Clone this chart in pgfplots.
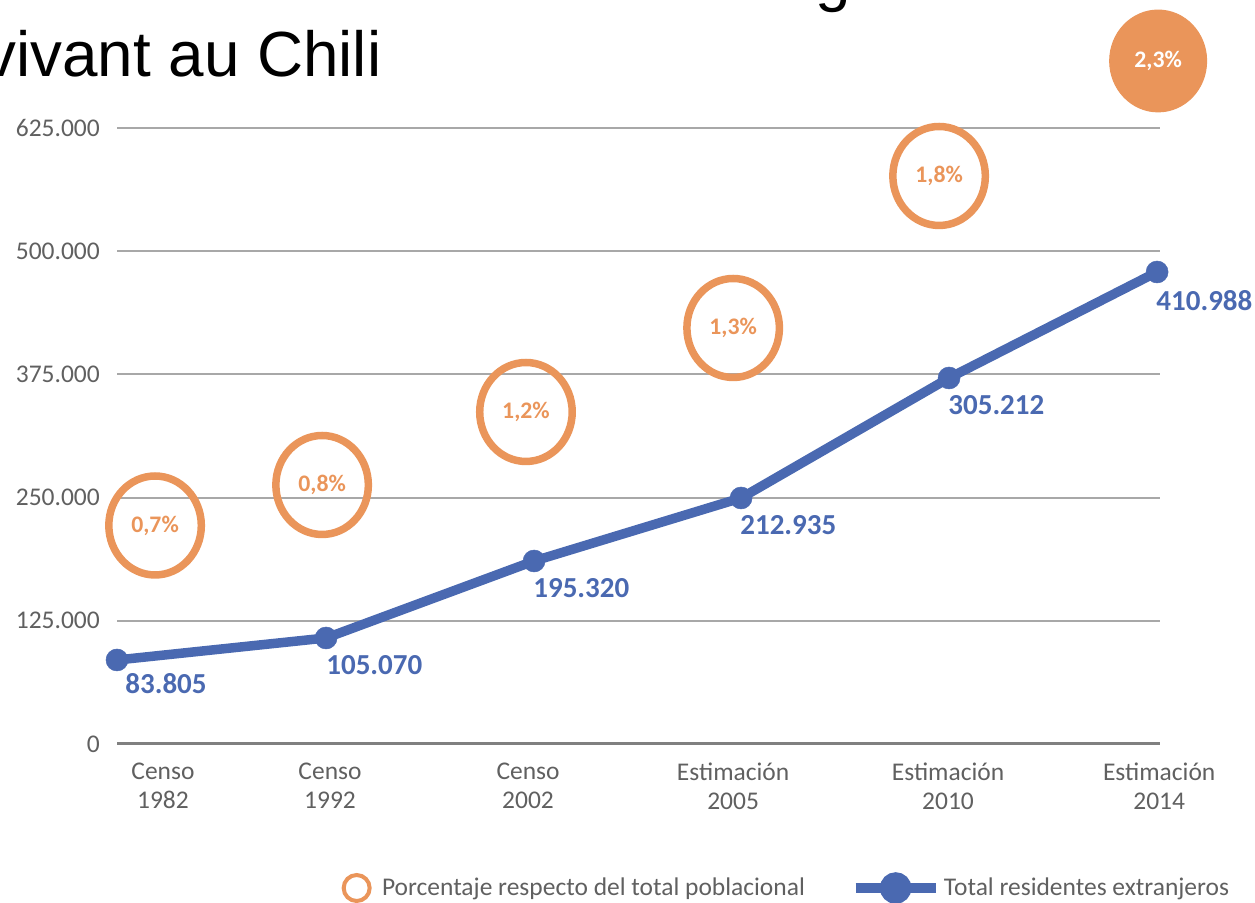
\documentclass[border=0pt]{standalone}
\usepackage{pgfplots}
\pgfplotsset{compat=1.18}
\usepackage{fontspec}
\setmainfont{Carlito}
\newfontfamily\titlefont{Liberation Sans}
\definecolor{ringor}{HTML}{EA955A}
\definecolor{lineblue}{HTML}{4A69B1}
\definecolor{gridgray}{HTML}{A8A8A8}
\definecolor{zerogray}{HTML}{808080}
\definecolor{ticktext}{HTML}{606060}
\begin{document}
\begin{tikzpicture}[x=1mm,y=1mm]
\useasboundingbox (0,0) rectangle (251,180.6);
\node[anchor=base west, inner sep=0, font=\titlefont\fontsize{36.3}{40}\selectfont] at (-3.2,180.6) {Estimation du nombre d'étrangers};
\node[anchor=base west, inner sep=0, font=\titlefont\fontsize{36.3}{40}\selectfont] at (-3.2,165.2) {vivant au Chili};
\begin{axis}[
  at={(23.4mm,31.8mm)}, anchor=south west,
  scale only axis, width=208.6mm, height=123.2mm,
  xmin=0, xmax=5.014, ymin=0, ymax=625000,
  clip=false,
  axis line style={draw=none},
  major tick length=0,
  ytick={125000,250000,375000,500000,625000},
  extra y ticks={0},
  extra y tick style={grid=major, major grid style={draw=zerogray, line width=0.6mm}},
  ymajorgrids,
  major grid style={draw=gridgray, line width=0.4mm},
  scaled y ticks=false,
  /pgf/number format/.cd, fixed, 1000 sep={.}, assume math mode=true,
  /pgfplots/.cd,
  yticklabel style={text=ticktext, font=\fontsize{14.5}{17}\selectfont, xshift=-2.2mm},
  xtick={0.221,1.024,1.976,2.962,3.995,5.01},
  xticklabels={{Censo\\1982},{Censo\\1992},{Censo\\2002},{Estimación\\2005},{Estimación\\2010},{Estimación\\2014}},
  xticklabel style={align=center, text=ticktext, font=\fontsize{14.5}{16.6}\selectfont, yshift=-2.6mm},
  legend columns=2,
  legend style={draw=none, fill=none, at={(0.210,-0.2338)}, anchor=west,
    font=\fontsize{14.5}{17}\selectfont, text=ticktext,
    /tikz/every even column/.append style={column sep=8.5mm}},
  legend cell align=left,
]
\addplot[only marks, mark=o, mark size=9.25mm,
  mark options={draw=ringor, line width=1.5mm, yscale=1.07},
  legend image code/.code={\draw[ringor, line width=0.8mm] (3mm,0mm) circle (2.6mm); \path (7.3mm,0mm);}]
  coordinates {(0.183,221692) (0.986,262784) (1.966,336851) (2.962,422078) (3.952,576299)};
\addlegendentry{Porcentaje respecto del total poblacional}
\addplot[forget plot, only marks, mark=*, mark size=9.7mm,
  mark options={draw=ringor, fill=ringor, line width=0.2mm, yscale=1.05},
  point meta=explicit symbolic, nodes near coords,
  every node near coord/.style={anchor=center, text=white, inner sep=0, font=\bfseries\fontsize{13.5}{16}\selectfont}]
  coordinates {(5.005,692979) [2,3\%]};
\addplot[lineblue, line width=1.9mm, mark=*, mark size=2.2mm, mark options={fill=lineblue, line width=0.1mm},
  legend image code/.code={\draw[lineblue, line width=1.9mm] (0mm,0mm) -- (16mm,0mm); \fill[lineblue] (8mm,0mm) circle (2.2mm);}]
  coordinates {(0,85227) (1.005,107549) (2.005,185674) (3.0,249594) (4.0,371347) (5.0,478896)};
\addlegendentry{Total residentes extranjeros}
% percentage labels
\begin{scope}[every node/.style={font=\bfseries\fontsize{13.5}{16}\selectfont, text=ringor, inner sep=0}]
\node at (axis cs:0.183,221692) {0,7\%};
\node at (axis cs:0.986,262784) {0,8\%};
\node at (axis cs:1.966,336851) {1,2\%};
\node at (axis cs:2.962,422078) {1,3\%};
\node at (axis cs:3.952,576299) {1,8\%};
\end{scope}
% value labels
\begin{scope}[every node/.style={font=\bfseries\fontsize{16.5}{19}\selectfont, text=lineblue, inner sep=0, anchor=west}]
\node at (axis cs:0.0385,60877) {83.805};
\node at (axis cs:1.0048,80154) {105.070};
\node at (axis cs:2.0,158279) {195.320};
\node at (axis cs:2.995,222200) {212.935};
\node at (axis cs:3.995,343953) {305.212};
\node at (axis cs:4.995,449472) {410.988};
\end{scope}
\end{axis}
\end{tikzpicture}
\end{document}
